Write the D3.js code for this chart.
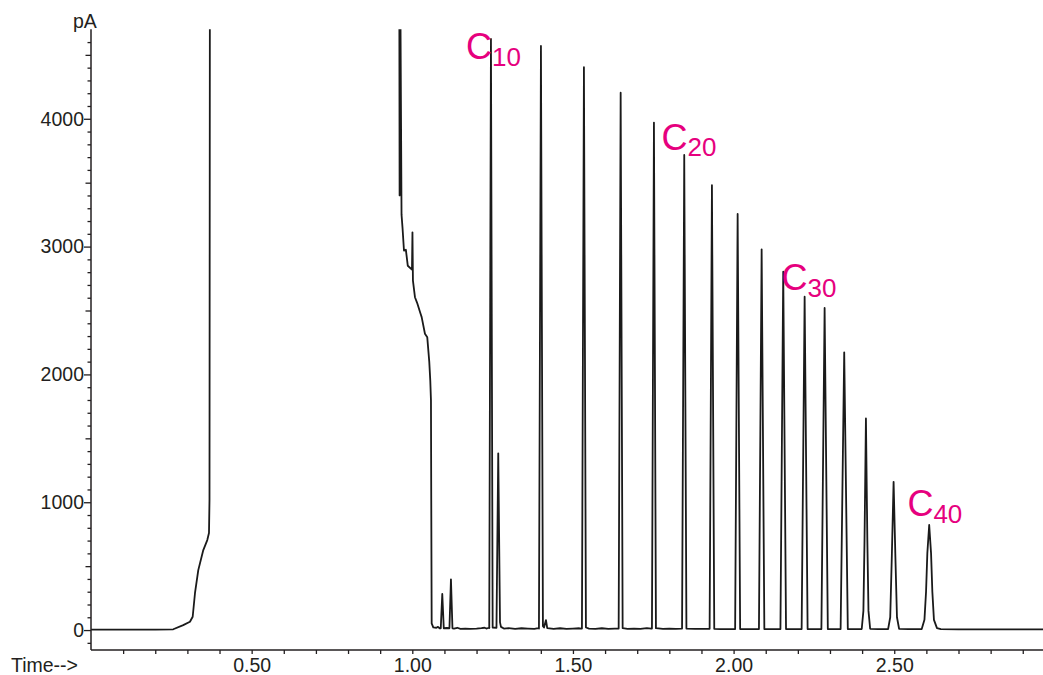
<!DOCTYPE html>
<html>
<head>
<meta charset="utf-8">
<script src="https://cdn.jsdelivr.net/npm/d3@7"></script>
<style>
  html, body { margin: 0; padding: 0; background: #fff; }
  svg { display: block; }
  text { font-family: "Liberation Sans", Arial, Helvetica, sans-serif; fill: #231f20; }
</style>
</head>
<body>
<svg id="chart" width="1043" height="675"></svg>
<script>
// ---------------- DATA ----------------
// Time axis (min) and signal axis (pA)
const xTickLabels = [0.5, 1.0, 1.5, 2.0, 2.5];
const xMinorTicks = [0.1,0.2,0.3,0.4,0.5,0.6,0.7,0.8,0.9,1.0,1.1,1.2,1.3,1.4,1.5,1.6,1.7,1.8,1.9,2.0,2.1,2.2,2.3,2.4,2.5,2.6,2.7,2.8,2.9];
const yTickLabels = [0, 1000, 2000, 3000, 4000];

// Trace segments: [time (min), signal (pA)]
const solventFront = [
  [0.000, 3], [0.100, 3], [0.200, 4], [0.256, 6], [0.287, 39], [0.308, 65],
  [0.3165, 104], [0.3237, 290], [0.3339, 469], [0.3495, 626], [0.3619, 704],
  [0.3672, 759], [0.3688, 1017], [0.3703, 6000]
];
const solventTail = [
  [0.9590, 6000], [0.9605, 3400], [0.9630, 4900], [0.9665, 3250], [0.9695, 3150],
  [0.9741, 2969], [0.9800, 2975], [0.9860, 2850], [0.9990, 2820], [1.0005, 3112],
  [1.0020, 2734], [1.0083, 2604], [1.0150, 2560], [1.0250, 2480], [1.0292, 2448],
  [1.0394, 2318], [1.0466, 2290], [1.0528, 2100], [1.0560, 1950], [1.0581, 1797],
  [1.0590, 1016], [1.0603, 52], [1.0653, 21], [1.0750, 18], [1.0800, 25], [1.0850, 14]
];
const minorPeaks = [
  [1.0886, 14], [1.0933, 282], [1.0980, 14], [1.1080, 16],
  [1.1156, 14], [1.1203, 397], [1.1250, 14],
  [1.130, 12], [1.140, 18], [1.150, 10], [1.165, 12], [1.180, 10], [1.200, 12],
  [1.215, 15], [1.225, 18], [1.232, 12], [1.240, 20]
];
const alkanePeaks = [
  // C10
  [1.2395, 15], [1.2448, 4624], [1.2501, 20],
  [1.2620, 18], [1.2675, 1383], [1.2730, 60], [1.2760, 25], [1.285, 12], [1.300, 15],
  [1.320, 10], [1.340, 14], [1.360, 12], [1.380, 10], [1.392, 15],
  // C12
  [1.3942, 12], [1.4004, 4570], [1.4066, 30], [1.4100, 20], [1.4160, 78], [1.4200, 15],
  [1.440, 10], [1.460, 14], [1.480, 10], [1.500, 12], [1.520, 14], [1.527, 12],
  // C14
  [1.5280, 12], [1.5342, 4403], [1.5404, 20], [1.550, 12], [1.570, 10], [1.590, 14],
  [1.610, 10], [1.630, 12], [1.641, 12],
  // C16
  [1.6423, 12], [1.6485, 4204], [1.6547, 15], [1.670, 10], [1.690, 12], [1.710, 10],
  [1.730, 15], [1.744, 12],
  // C18
  [1.7459, 12], [1.7521, 3970], [1.7583, 15], [1.780, 10], [1.800, 12], [1.820, 10], [1.838, 12],
  // C20
  [1.8396, 12], [1.8464, 3717], [1.8532, 12], [1.880, 10], [1.900, 10], [1.924, 10],
  // C22
  [1.9254, 10], [1.9326, 3480], [1.9398, 10], [1.960, 8], [1.990, 8], [2.004, 8],
  // C24
  [2.0048, 8], [2.0126, 3255], [2.0204, 8], [2.050, 8], [2.078, 8],
  // C26
  [2.0789, 8], [2.0873, 2979], [2.0957, 8], [2.120, 8], [2.145, 8],
  // C28
  [2.1458, 8], [2.1545, 2804], [2.1632, 8], [2.190, 8], [2.211, 8],
  // C30
  [2.2118, 8], [2.2211, 2608], [2.2304, 8], [2.255, 8], [2.273, 8],
  // C32
  [2.2733, 8], [2.2833, 2520], [2.2933, 8], [2.320, 8], [2.333, 8],
  // C34
  [2.3331, 8], [2.3443, 2173], [2.3555, 8], [2.380, 8], [2.397, 8],
  // C36
  [2.3988, 8], [2.4040, 150], [2.4075, 700], [2.4119, 1656], [2.4163, 700],
  [2.4198, 150], [2.4250, 10], [2.450, 8], [2.480, 8],
  // C38
  [2.4809, 8], [2.4875, 100], [2.4925, 580], [2.4980, 1160], [2.5035, 580],
  [2.5085, 100], [2.5151, 10], [2.545, 8], [2.580, 8],
  // C40
  [2.5855, 8], [2.5940, 80], [2.5990, 300], [2.6030, 600], [2.6088, 822],
  [2.6146, 600], [2.6186, 300], [2.6236, 80], [2.6330, 15], [2.6450, 8],
  [2.700, 6], [2.800, 5], [2.963, 5]
];

// Peak annotations: label number, anchor time, anchor signal
const peakLabelNumbers = ["10", "20", "30", "40"];
const peakLabelTimes   = [1.1670, 1.7754, 2.1489, 2.5410];
const peakLabelSignals = [4464, 3756, 2660, 892];

// ---------------- CHART ----------------
(function () {
const svg = d3.select("#chart");
const mLeft = 91, mRight = 1043, mTop = 29.3, mBottom = 650;

const x = d3.scaleLinear().domain([0, 2.963]).range([mLeft, mRight]);
const y = d3.scaleLinear().domain([-156, 4700]).range([mBottom, mTop]);

const ink = "#231f20";

// clip
svg.append("defs").append("clipPath").attr("id", "plotClip")
  .append("rect").attr("x", mLeft).attr("y", mTop).attr("width", mRight - mLeft).attr("height", mBottom - mTop);

// trace
const trace = solventFront.concat(solventTail, minorPeaks, alkanePeaks);
const line = d3.line().x(d => x(d[0])).y(d => y(d[1]));
svg.append("path")
  .attr("clip-path", "url(#plotClip)")
  .attr("d", line(trace))
  .attr("fill", "none")
  .attr("stroke", "#1a1a1a")
  .attr("stroke-width", 1.8)
  .attr("stroke-linejoin", "round");

// x axis: minor ticks
svg.append("g").attr("transform", `translate(0,${mBottom})`)
  .call(d3.axisBottom(x).tickValues(xMinorTicks).tickSize(4).tickFormat(""));
// x axis: labels
const xLab = svg.append("g").attr("transform", `translate(0,${mBottom})`)
  .call(d3.axisBottom(x).tickValues(xTickLabels).tickSize(0).tickPadding(8).tickFormat(d3.format(".2f")));
xLab.selectAll("text").style("font-size", "19.5px").attr("fill", ink);

// y axis ticks
const yMinorVals = d3.range(-100, 4700, 100).filter(v => v % 500 !== 0);
const yMidVals = d3.range(500, 4700, 1000);
svg.append("g").attr("transform", `translate(${mLeft},0)`)
  .call(d3.axisLeft(y).tickValues(yMinorVals).tickSize(3.5).tickFormat(""));
svg.append("g").attr("transform", `translate(${mLeft},0)`)
  .call(d3.axisLeft(y).tickValues(yMidVals).tickSize(5.5).tickFormat(""));
const yLab = svg.append("g").attr("transform", `translate(${mLeft},0)`)
  .call(d3.axisLeft(y).tickValues(yTickLabels).tickSize(7).tickPadding(0).tickFormat(d3.format("d")));
yLab.selectAll("text").style("font-size", "19.5px").attr("fill", ink);

// style axes
svg.selectAll(".domain").remove();
svg.selectAll(".tick line").attr("stroke", ink).attr("stroke-width", 1.3);

// axis lines
svg.append("line").attr("x1", mLeft).attr("x2", mRight).attr("y1", mBottom).attr("y2", mBottom)
  .attr("stroke", ink).attr("stroke-width", 1.5);
svg.append("line").attr("x1", mLeft).attr("x2", mLeft).attr("y1", mTop).attr("y2", mBottom)
  .attr("stroke", ink).attr("stroke-width", 1.5);

// axis titles
svg.append("text").attr("x", 73).attr("y", 28).style("font-size", "19.5px").text("pA");
svg.append("text").attr("x", 11).attr("y", 672).style("font-size", "19.5px").text("Time-->");

// peak labels
const pink = "#e6007e";
peakLabelNumbers.forEach((n, i) => {
  const t = svg.append("text")
    .attr("x", x(peakLabelTimes[i]))
    .attr("y", y(peakLabelSignals[i]))
    .style("fill", pink)
    .style("font-size", "36px");
  t.append("tspan").style("fill", pink).text("C");
  t.append("tspan").attr("dy", 6.5).style("font-size", "26px").style("fill", pink).text(n);
});
})();
</script>
</body>
</html>
